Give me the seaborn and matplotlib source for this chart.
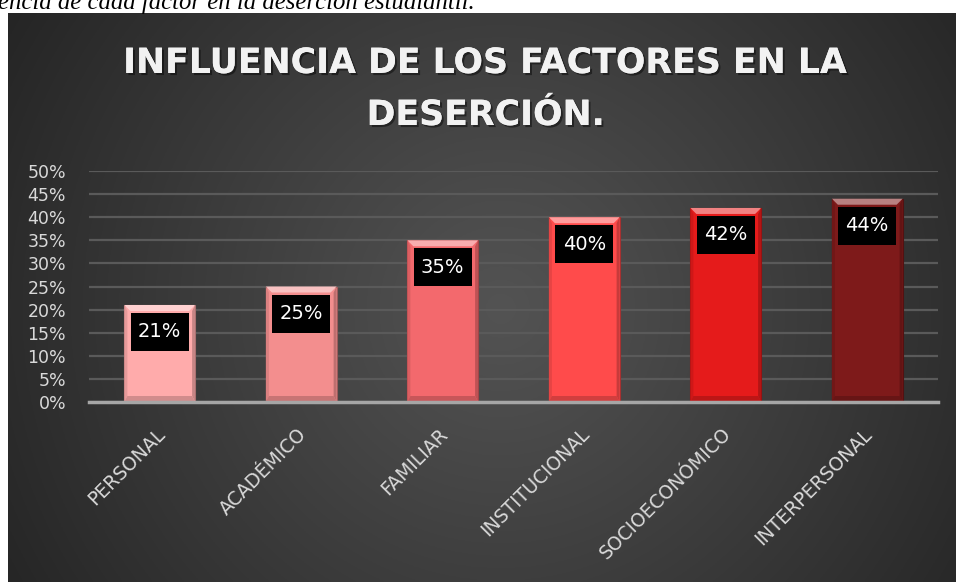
import numpy as np
import pandas as pd
import matplotlib
matplotlib.use("Agg")
import matplotlib.pyplot as plt
import matplotlib.patheffects as pe
from matplotlib.patches import Polygon, Rectangle
from matplotlib.colors import to_rgb
from matplotlib.ticker import PercentFormatter, MultipleLocator
import matplotlib.transforms as mtransforms
import seaborn as sns

# Chart data
categories = ["PERSONAL", "ACADÉMICO", "FAMILIAR", "INSTITUCIONAL",
              "SOCIOECONÓMICO", "INTERPERSONAL"]
values = [0.21, 0.25, 0.35, 0.40, 0.42, 0.44]
bar_colors = ["#FFABAB", "#F38E8E", "#F3696D", "#FF4B4B", "#E51B1B", "#7E1A1A"]
title_lines = ["INFLUENCIA DE LOS FACTORES EN LA", "DESERCIÓN."]
caption = "encia de cada factor en la deserción estudiantil."

df = pd.DataFrame({"factor": categories, "valor": values})

sns.set_theme(style="white")
plt.rcParams["font.family"] = ["DejaVu Sans"]

W, H = 956, 582
fig = plt.figure(figsize=(W / 100, H / 100), dpi=100)
fig.patch.set_facecolor("white")

# Dark radial-gradient panel behind the chart
panel_l, panel_t = 8, 13
bg = fig.add_axes([panel_l / W, 0, (W - panel_l) / W, (H - panel_t) / H])
bg.set_axis_off()
ny, nx = 300, 500
yy, xx = np.mgrid[0:1:ny * 1j, 0:1:nx * 1j]
aspect = (W - panel_l) / (H - panel_t)
d = np.sqrt(((xx - 0.52) * aspect) ** 2 + (yy - 0.52) ** 2)
d = np.clip(d / d.max(), 0, 1)
inner, outer = np.array(to_rgb("#535353")), np.array(to_rgb("#252525"))
t = d ** 1.05
img = inner[None, None, :] * (1 - t[..., None]) + outer[None, None, :] * t[..., None]
bg.imshow(img, aspect="auto", extent=[0, 1, 0, 1], origin="upper")
bg.set_xlim(0, 1)
bg.set_ylim(0, 1)

# Caption line at the top of the page
fig.text(-0.002, 1 - 8.5 / H, caption, family="Liberation Serif", style="italic",
         fontsize=17.8, color="black", ha="left", va="baseline")

# Title with soft shadow
shadow = [pe.withSimplePatchShadow(offset=(1.5, -1.5), shadow_rgbFace="black", alpha=0.45),
          pe.Normal()]
for line, base in zip(title_lines, [73, 125]):
    fig.text(486 / W, 1 - base / H, line, fontsize=25, fontweight="bold",
             color="#F2F2F2", ha="center", va="baseline", path_effects=shadow)

# Main plotting area
ax_l, ax_r, ax_top, ax_bot = 89, 938, 171, 402
ax = fig.add_axes([ax_l / W, 1 - ax_bot / H, (ax_r - ax_l) / W, (ax_bot - ax_top) / H])
ax.set_facecolor("none")

sns.barplot(data=df, x="factor", y="valor", hue="factor", palette=bar_colors,
            width=0.5, saturation=1, legend=False, ax=ax, zorder=3)

ax.set_ylim(0, 0.5)
ax.set_xlim(-0.5, len(categories) - 0.5)
ax.yaxis.set_major_locator(MultipleLocator(0.05))
ax.yaxis.set_major_formatter(PercentFormatter(1.0, decimals=0))
ax.set_xlabel("")
ax.set_ylabel("")
ax.yaxis.grid(True, color="#5A5A5A", linewidth=1.6)
ax.set_axisbelow(True)
for s in ["top", "right", "left"]:
    ax.spines[s].set_visible(False)
ax.spines["bottom"].set_color("#A6A6A6")
ax.spines["bottom"].set_linewidth(2.5)
ax.spines["bottom"].set_zorder(5)
ax.tick_params(axis="y", length=0, pad=16.5, labelsize=12.5, labelcolor="#D9D9D9")
ax.tick_params(axis="x", length=0, pad=21, labelsize=13.5, labelcolor="#D9D9D9")
for lab in ax.get_xticklabels():
    lab.set_rotation(45)
    lab.set_ha("right")
    lab.set_va("center")
    lab.set_rotation_mode("anchor")
    lab.set_transform(lab.get_transform() +
                      mtransforms.ScaledTranslation(2 / 100, 0, fig.dpi_scale_trans))

# Pixel-to-data scale of the plotting area
px_x = (ax_r - ax_l) / len(categories)
px_y = (ax_bot - ax_top) / 0.5


def mix(c, other, f):
    c = np.array(to_rgb(c))
    o = np.array(to_rgb(other))
    return tuple(c * (1 - f) + o * f)


# Bevelled bar faces and value labels
bx, by = 6 / px_x, 6 / px_y
for patch, v, col in zip(ax.patches, values, bar_colors):
    x0 = patch.get_x()
    x1 = x0 + patch.get_width()
    h = patch.get_height()
    patch.set_edgecolor(mix(col, "black", 0.35))
    patch.set_linewidth(0.8)
    faces = [
        ([(x0, h), (x1, h), (x1 - bx, h - by), (x0 + bx, h - by)], mix(col, "white", 0.45)),
        ([(x0, 0), (x0, h), (x0 + bx * 0.5, h - by), (x0 + bx * 0.5, by)], mix(col, "black", 0.10)),
        ([(x1, 0), (x1, h), (x1 - bx * 0.5, h - by), (x1 - bx * 0.5, by)], mix(col, "black", 0.22)),
        ([(x0, 0), (x1, 0), (x1 - bx * 0.5, by), (x0 + bx * 0.5, by)], mix(col, "black", 0.18)),
    ]
    for pts, fc in faces:
        ax.add_patch(Polygon(pts, closed=True, facecolor=fc, edgecolor="none", zorder=4))

    cx = x0 + patch.get_width() / 2
    box_w, box_h = 58 / px_x, 38 / px_y
    cy = v - 27 / px_y
    ax.add_patch(Rectangle((cx - box_w / 2, cy - box_h / 2), box_w, box_h,
                           facecolor="black", edgecolor="none", zorder=6))
    ax.text(cx, cy, f"{v:.0%}", color="white", fontsize=14, ha="center",
            va="center", zorder=7)

fig.savefig("out.png", dpi=100)
